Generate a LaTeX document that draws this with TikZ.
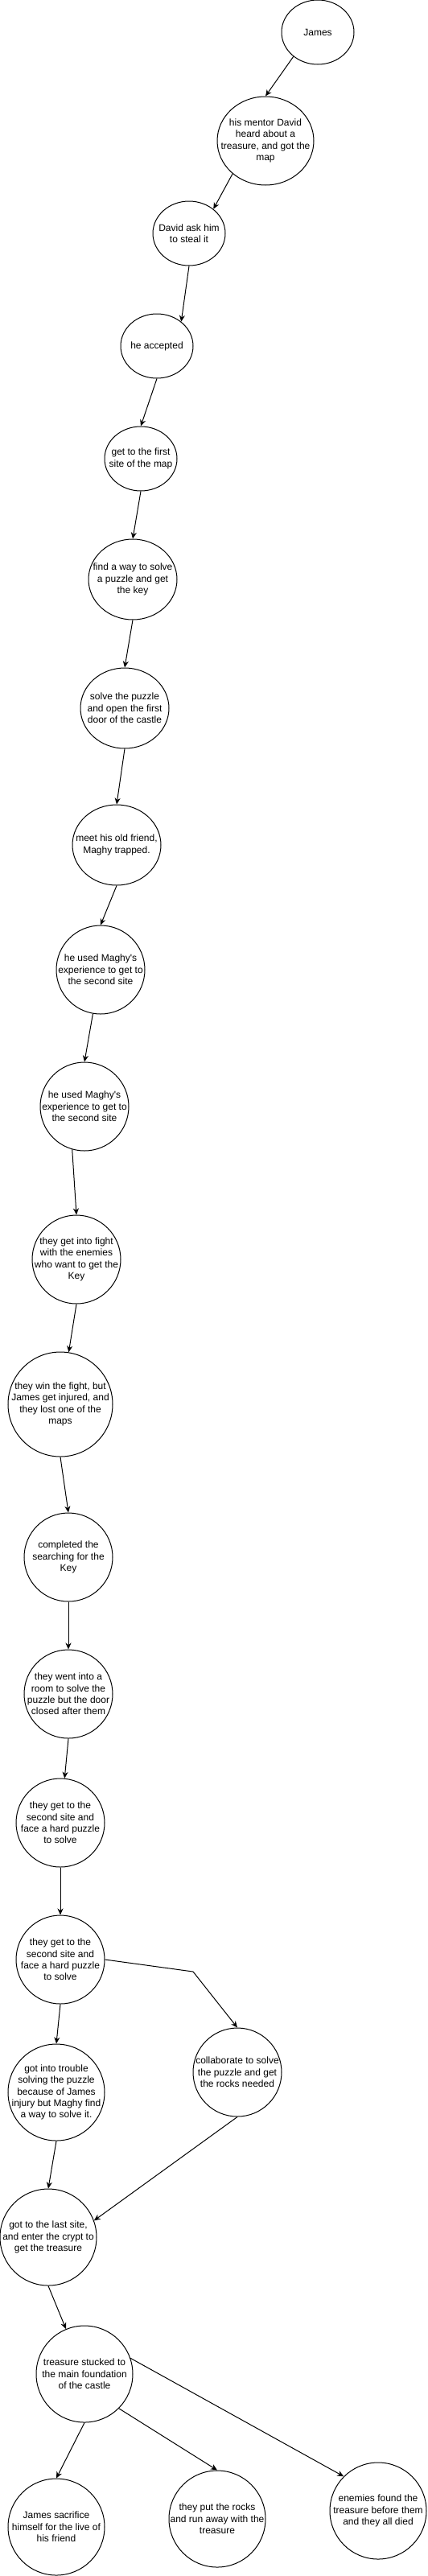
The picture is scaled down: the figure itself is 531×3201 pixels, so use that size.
\documentclass[tikz,border=0pt]{standalone}
\usepackage{fontspec}
\setmainfont{Liberation Sans}
\usetikzlibrary{shapes.geometric,arrows.meta}
\begin{document}
\begin{tikzpicture}[x=1pt,y=-1pt,
  ev/.style={draw=black, line width=1pt, ellipse, inner sep=0pt, fill=white},
  sz/.style 2 args={minimum width=#1pt, minimum height=#2pt},
  lbl/.style={align=center, font=\fontsize{12}{14.4}\selectfont, inner sep=0pt, text=black},
  conn/.style={draw=black, line width=1pt, -{Stealth[length=8pt,width=7pt,inset=2.5pt]}},
]
\path[use as bounding box] (0,0) rectangle (531,3201);

\node[ev, sz={90}{80}, label={[lbl]center:{James}}] (james) at (395,40) {};
\node[ev, sz={120}{110}, label={[lbl]center:{his mentor David\\heard about a\\treasure, and got the\\map}}] (mentor) at (330,175) {};
\node[ev, sz={90}{80}, label={[lbl]center:{David ask him\\to steal it}}] (david) at (235,290) {};
\node[ev, sz={90}{80}, label={[lbl]center:{he accepted}}] (accepted) at (195,430) {};
\node[ev, sz={90}{80}, label={[lbl]center:{get to the first\\site of the map}}] (first) at (175,570) {};
\node[ev, sz={110}{100}, label={[lbl]center:{find a way to solve\\a puzzle and get\\the key}}] (find) at (165,720) {};
\node[ev, sz={110}{100}, label={[lbl]center:{solve the puzzle\\and open the first\\door of the castle}}] (solve) at (155,880) {};
\node[ev, sz={110}{100}, label={[lbl]center:{meet his old friend,\\Maghy trapped.}}] (meet) at (145,1050) {};
\node[ev, sz={110}{110}, label={[lbl]center:{he used Maghy\textquotesingle s\\experience to get to\\the second site}}] (used1) at (125,1205) {};
\node[ev, sz={110}{110}, label={[lbl]center:{he used Maghy\textquotesingle s\\experience to get to\\the second site}}] (used2) at (105,1375) {};
\node[ev, sz={110}{110}, label={[lbl]center:{they get into fight\\with the enemies\\who want to get the\\Key}}] (fight) at (95,1565) {};
\node[ev, sz={130}{130}, label={[lbl]center:{they win the fight, but\\James get injured, and\\they lost one of the\\maps}}] (win) at (75,1745) {};
\node[ev, sz={110}{110}, label={[lbl]center:{completed the\\searching for the\\Key}}] (completed) at (85,1935) {};
\node[ev, sz={110}{110}, label={[lbl]center:{they went into a\\room to solve the\\puzzle but the door\\closed after them}}] (room) at (85,2105) {};
\node[ev, sz={110}{110}, label={[lbl]center:{they get to the\\second site and\\face a hard puzzle\\to solve}}] (second1) at (75,2265) {};
\node[ev, sz={110}{110}, label={[lbl]center:{they get to the\\second site and\\face a hard puzzle\\to solve}}] (second2) at (75,2435) {};
\node[ev, sz={120}{120}, label={[lbl]center:{got into trouble\\solving the puzzle\\because of James\\injury but Maghy find\\a way to solve it.}}] (trouble) at (70,2600) {};
\node[ev, sz={110}{110}, label={[lbl]center:{collaborate to solve\\the puzzle and get\\the rocks needed}}] (collab) at (295,2575) {};
\node[ev, sz={120}{120}, label={[lbl]center:{got to the last site,\\and enter the crypt to\\get the treasure}}] (last) at (60,2780) {};
\node[ev, sz={120}{120}, label={[lbl]center:{treasure stucked to\\the main foundation\\of the castle}}] (stuck) at (105,2950) {};
\node[ev, sz={120}{120}, label={[lbl]center:{James sacrifice\\himself for the live of\\his friend}}] (sacrifice) at (70,3140) {};
\node[ev, sz={120}{120}, label={[lbl]center:{they put the rocks\\and run away with the\\treasure}}] (rocks) at (270,3130) {};
\node[ev, sz={120}{120}, label={[lbl]center:{enemies found the\\treasure before them\\and they all died}}] (enemies) at (470,3120) {};

\coordinate (bend) at (240,2450);

\draw[conn] (james.-135) -- (mentor.north);
\draw[conn] (mentor.-135) -- (david.45);
\draw[conn] (david.south) -- (accepted.45);
\draw[conn] (accepted.south) -- (first.north);
\draw[conn] (first.south) -- (find.north);
\draw[conn] (find.south) -- (solve.north);
\draw[conn] (solve.south) -- (meet.north);
\draw[conn] (meet.south) -- (used1.north);
\draw[conn] (used1) -- (used2.north);
\draw[conn] (used2.-106) -- (fight.north);
\draw[conn] (fight.south) -- (win);
\draw[conn] (win.south) -- (completed.north);
\draw[conn] (completed.south) -- (room.north);
\draw[conn] (room.south) -- (second1);
\draw[conn] (second1.south) -- (second2.north);
\draw[conn] (second2.south) -- (trouble.north);
\draw[conn] (second2.east) -- (bend) -- (collab.north);
\draw[conn] (collab.south) -- (last.20);
\draw[conn] (trouble.south) -- (last.north);
\draw[conn] (last.south) -- (stuck);
\draw[conn] (stuck.south) -- (sacrifice.north);
\draw[conn] (stuck.-45) -- (rocks.north);
\draw[conn] (stuck.19) -- (enemies.135);
\end{tikzpicture}
\end{document}
